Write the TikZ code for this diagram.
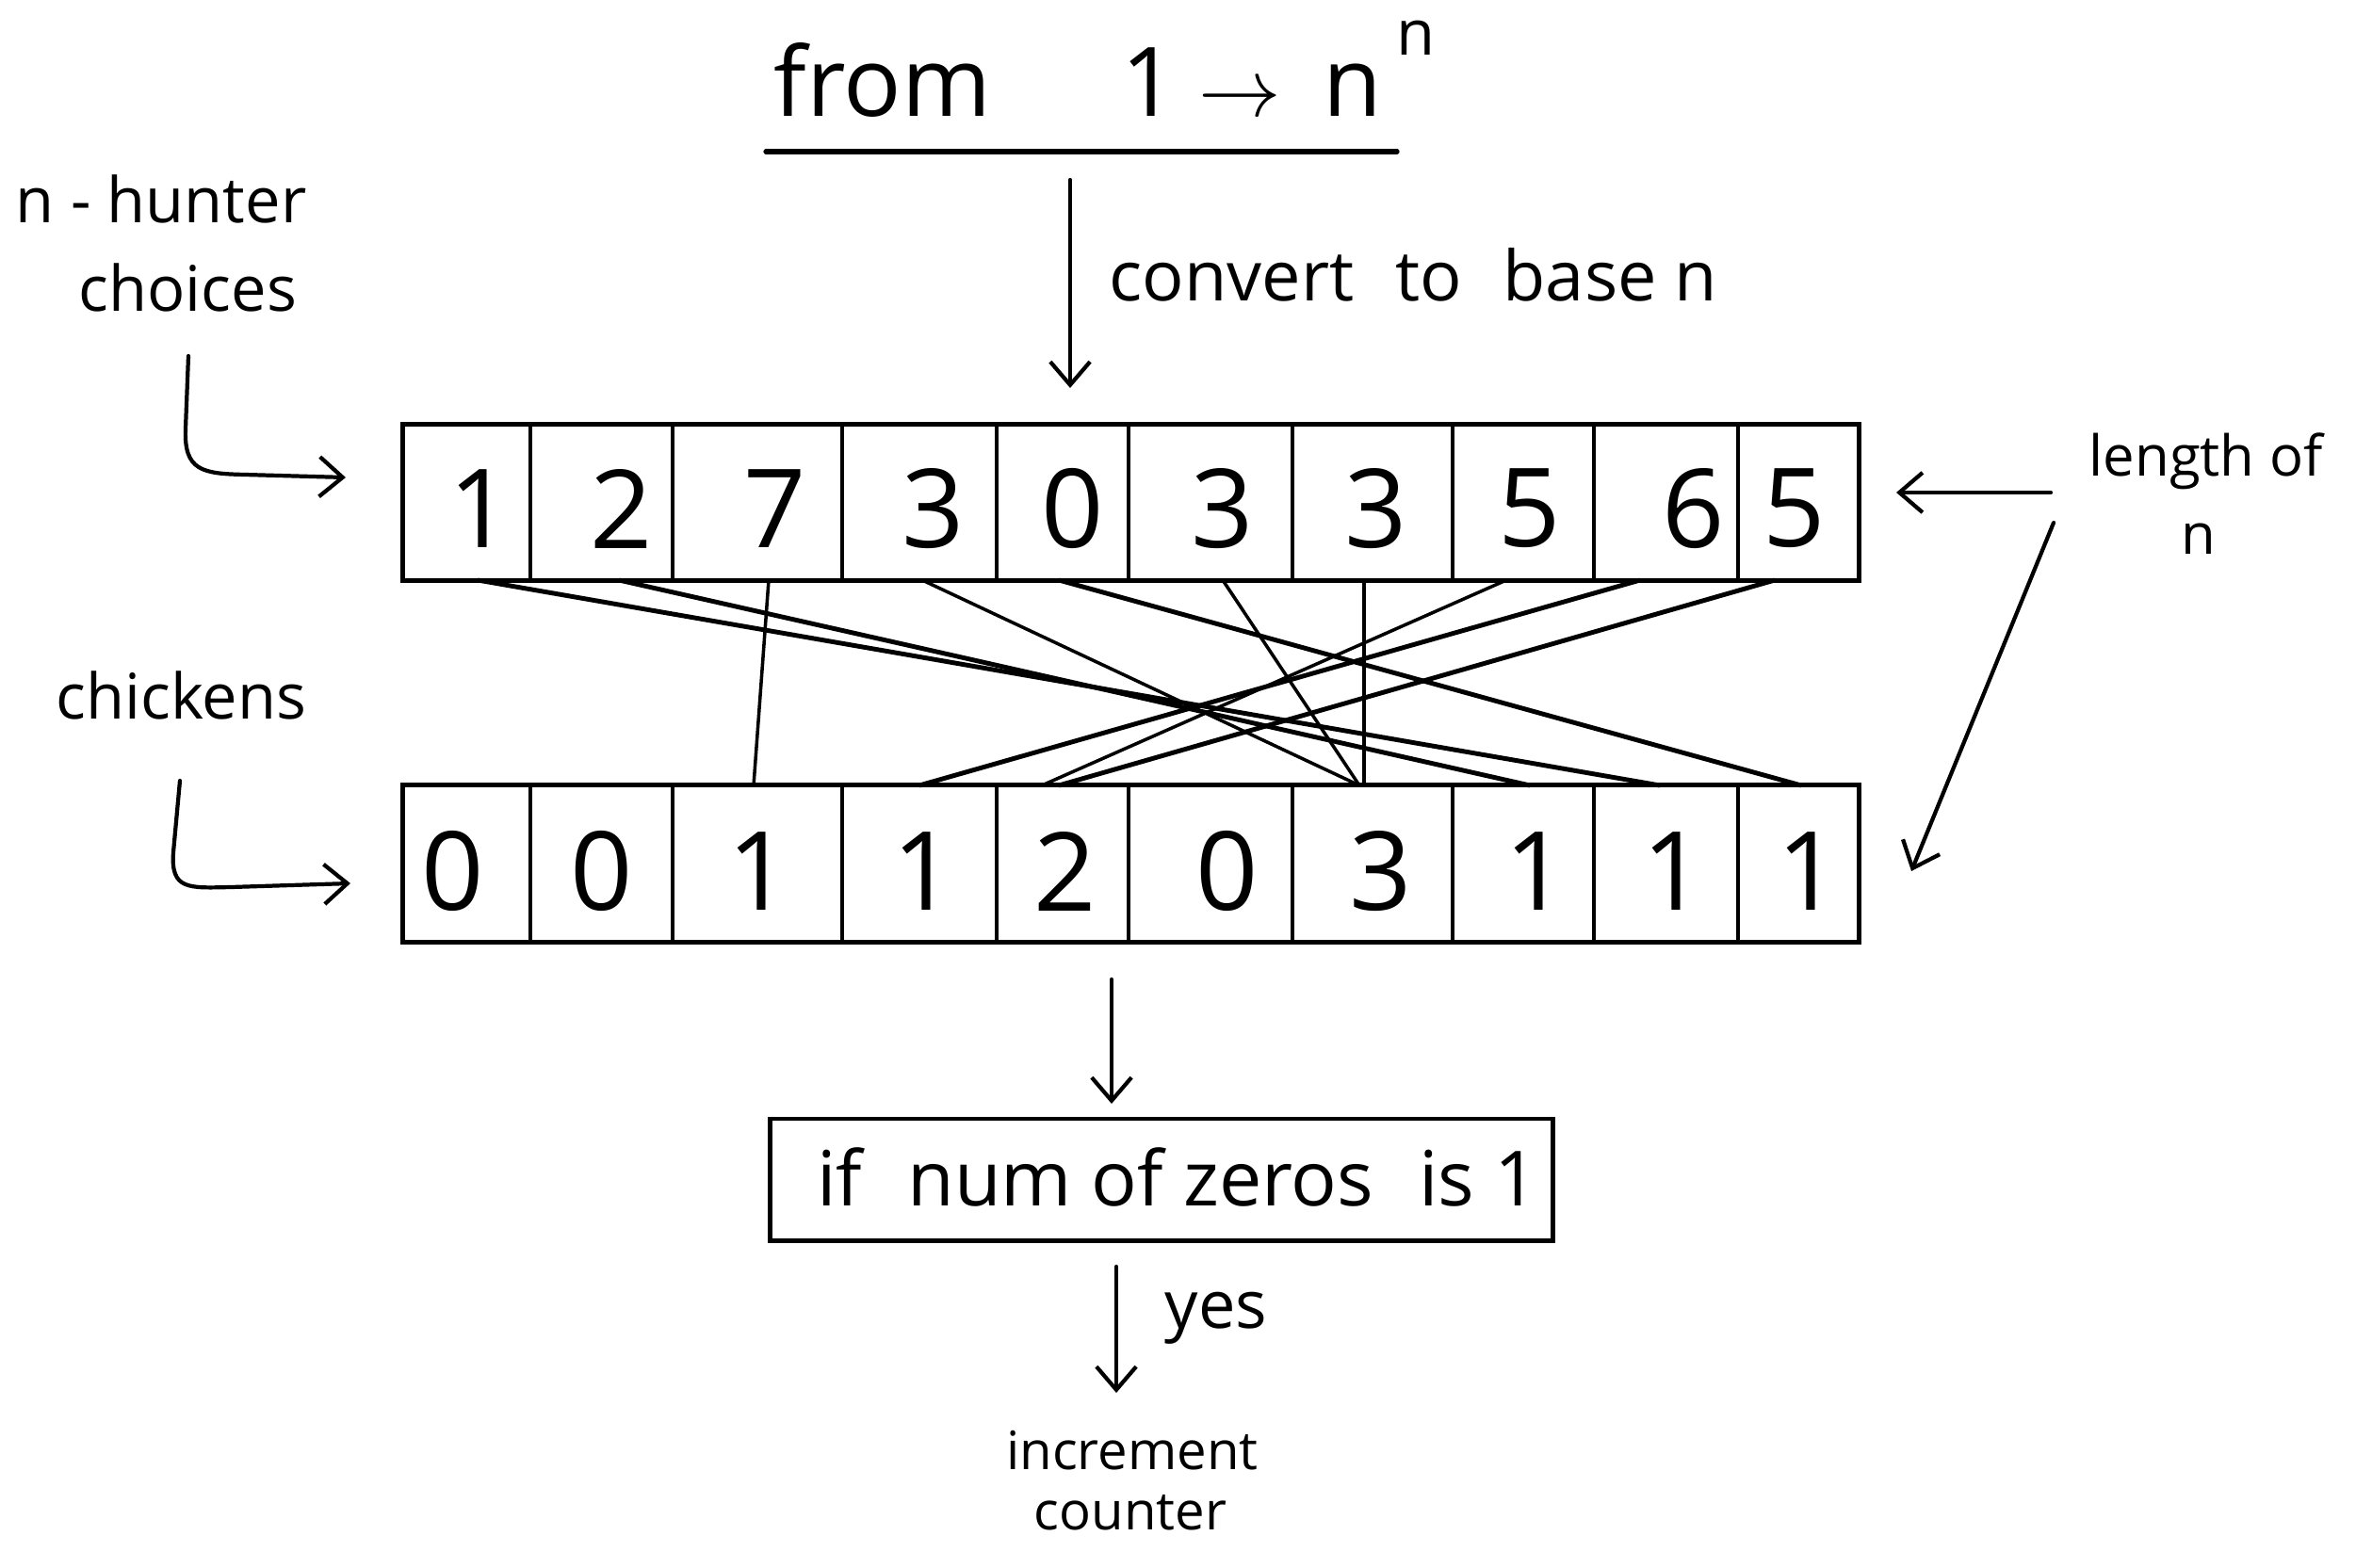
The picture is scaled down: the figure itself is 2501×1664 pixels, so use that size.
\documentclass[tikz,border=0pt]{standalone}
\usepackage{fontspec}
\setmainfont{Open Sans}
\usetikzlibrary{arrows.meta}
\begin{document}
\begin{tikzpicture}[x=0.01cm,y=-0.01cm,
  lbl/.style={inner sep=0pt, font=\fontsize{19}{22}\selectfont},
  mid/.style={inner sep=0pt, font=\fontsize{21}{25}\selectfont},
  ttl/.style={inner sep=0pt, font=\fontsize{29}{34}\selectfont},
  digit/.style={inner sep=0pt, font=\fontsize{33}{38}\selectfont},
  arr/.style={-{Straight Barb[length=7pt,width=12pt]}, line width=1.2pt, line cap=round},
  frame/.style={draw, line width=1.4pt, inner sep=0pt},
  divider/.style={line width=1pt},
  thin/.style={line width=1pt},
  thick/.style={line width=1.4pt}]
\useasboundingbox (0,0) rectangle (2501,1664);

% ---- title ----
\node[ttl, anchor=base west] (from) at (821,124) {from};
\node[ttl, anchor=base] (one) at (1220,124) {1};
\node[ttl, anchor=base] (to) at (1316,124) {$\rightarrow$};
\node[ttl, anchor=base] (nn) at (1436,124) {n};
\node[inner sep=0pt, font=\fontsize{19}{22}\selectfont] (sup) at (1503,40) {n};
\draw[line width=1.5pt, line cap=round] (813,161) -- (1483,161);

% ---- convert arrow ----
\coordinate (cstart) at (1136,191);
\coordinate (cend) at (1136,412);
\draw[arr] (cstart) -- (cend);
\node[mid, anchor=west] (conv) at (1177,292) {convert\,\, to\,\, base n};

% ---- top array ----
\node[frame, minimum width=15.45cm, minimum height=1.65cm] (toparr) at (1200.5,533.5) {};
\foreach \x in {563,714,894,1058,1198,1372,1542,1692,1845}
  \draw[divider] (\x,451) -- (\x,616);
\foreach \x/\d [count=\i] in {510/1,660/2,823/7,991/3,1139/0,1298/3,1461/3,1624/5,1798/6,1905/5}
  \node[digit] (h\i) at (\x,540) {\d};

% ---- bottom array ----
\node[frame, minimum width=15.45cm, minimum height=1.66cm] (botarr) at (1200.5,917) {};
\foreach \x in {563,714,894,1058,1198,1372,1542,1692,1845}
  \draw[divider] (\x,834) -- (\x,1000);
\foreach \x/\d [count=\i] in {481/0,639/0,806/1,981/1,1131/2,1303/0,1466/3,1631/1,1777/1,1920/1}
  \node[digit] (c\i) at (\x,925) {\d};

% ---- connector end points ----
\foreach \x [count=\i] in {507,657,816,979,1124,1298,1448,1599,1741,1884}
  \coordinate (t\i) at (\x,616);
\coordinate (bA) at (1762,834);
\coordinate (bB) at (1624,834);
\coordinate (bC) at (800,834);
\coordinate (bD) at (1443,834);
\coordinate (bE) at (1912,834);
\coordinate (bF) at (1448,834);
\coordinate (bG) at (1106,834);
\coordinate (bH) at (976,834);
\coordinate (bI) at (1124,834);

\draw[thick] (t1) -- (bA);
\draw[thick] (t2) -- (bB);
\draw[thin] (t3) -- (bC);
\draw[thin] (t4) -- (bD);
\draw[thick] (t5) -- (bE);
\draw[thin] (t6) -- (bD);
\draw[thin] (t7) -- (bF);
\draw[thin] (t8) -- (bG);
\draw[thick] (t9) -- (bH);
\draw[thick] (t10) -- (bI);

% ---- left labels ----
\node[lbl, anchor=west] (hunter) at (16,211) {n - hunter};
\node[lbl, anchor=west] (choices) at (83,305) {choices};
\coordinate (hs) at (200,378);
\coordinate (he) at (367,507);
\draw[arr] (hs) -- (197,455) .. controls (195,500) and (215,503) .. (260,504) -- (he);

\node[lbl, anchor=west] (chick) at (59,738) {chickens};
\coordinate (ks) at (191,829);
\coordinate (ke) at (372,938);
\draw[arr] (ks) -- (184,905) .. controls (181,945) and (200,943) .. (245,942) -- (ke);

% ---- right labels ----
\node[inner sep=0pt, font=\fontsize{17}{20}\selectfont, anchor=west] (len) at (2217,490) {length of};
\node[inner sep=0pt, font=\fontsize{17}{20}\selectfont] (lenn) at (2334,572) {n};
\coordinate (ls1) at (2177,523);
\coordinate (le1) at (2013,523);
\coordinate (ls2) at (2180,555);
\coordinate (le2) at (2029,925);
\draw[arr] (ls1) -- (le1);
\draw[arr] (ls2) -- (le2);

% ---- condition ----
\coordinate (ds) at (1180,1040);
\coordinate (de) at (1180,1172);
\draw[arr] (ds) -- (de);
\node[frame, minimum width=8.3cm, minimum height=1.29cm] (cond) at (1233,1252.5) {};
\node[inner sep=0pt, font=\fontsize{23}{27}\selectfont] (condtxt) at (1250,1250) {if\,\, num of zeros\,\, is 1};

\coordinate (ys) at (1185,1345);
\coordinate (ye) at (1185,1479);
\draw[arr] (ys) -- (ye);
\node[inner sep=0pt, font=\fontsize{20}{24}\selectfont, anchor=west] (yes) at (1236,1400) {yes};

\node[inner sep=0pt, font=\fontsize{16}{19}\selectfont] (inc) at (1202,1540) {increment};
\node[inner sep=0pt, font=\fontsize{16}{19}\selectfont] (cnt) at (1200,1606) {counter};
\end{tikzpicture}
\end{document}
